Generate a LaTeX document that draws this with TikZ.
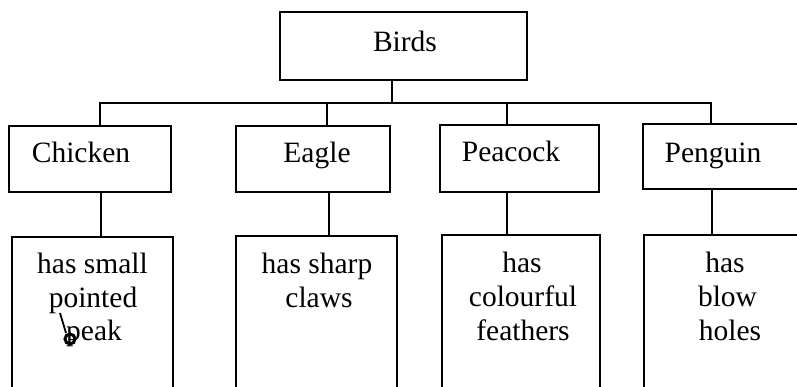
\documentclass[tikz,border=0pt]{standalone}
\usepackage{fontspec}
\setmainfont{Liberation Serif}
\begin{document}
\begin{tikzpicture}[x=1pt,y=-1pt,
  box/.style={draw, line width=2.4pt, inner sep=0pt, rectangle},
  openbox/.style={draw=none, inner sep=0pt, rectangle},
  txt/.style={inner sep=0pt, anchor=base, font=\fontsize{29.5}{34}\selectfont},
  conn/.style={line width=2.4pt}]
\useasboundingbox (0,0) rectangle (797,387);
\clip (0,0) rectangle (797,387);
\fill[white] (0,0) rectangle (797,387);
% top box
\node[box, minimum width=247pt, minimum height=68pt] (birds) at (403.5,46) {};
\node[txt] (tbirds) at (405,52) {Birds};
% second row
\node[box, minimum width=162pt, minimum height=66pt] (chicken) at (90,159) {};
\node[box, minimum width=154pt, minimum height=66pt] (eagle) at (313,159) {};
\node[box, minimum width=159pt, minimum height=67pt] (peacock) at (519.5,158.5) {};
\node[box, minimum width=170pt, minimum height=65pt] (penguin) at (728,156.5) {};
\node[txt] (tchicken) at (81,163) {Chicken};
\node[txt] (teagle) at (317,163) {Eagle};
\node[txt] (tpeacock) at (511,162) {Peacock};
\node[txt] (tpenguin) at (713,163) {Penguin};
% third row (open at bottom)
\node[openbox, minimum width=161pt, minimum height=170pt] (cb) at (92.5,322) {};
\node[openbox, minimum width=161pt, minimum height=170pt] (eb) at (316.5,321) {};
\node[openbox, minimum width=158pt, minimum height=170pt] (pb) at (521,320) {};
\node[openbox, minimum width=161pt, minimum height=170pt] (gb) at (724.5,320) {};
\foreach \b in {cb,eb,pb,gb}
  \draw[conn] (\b.south west) -- (\b.north west) -- (\b.north east) -- (\b.south east);
% texts of third row
\node[txt] (c1) at (92.5,273) {has small};
\node[txt] (c2) at (93,307) {pointed};
\node[txt] (c3) at (94,340) {peak};
\node[txt] (e1) at (317,273) {has sharp};
\node[txt] (e2) at (319,307) {claws};
\node[txt] (p1) at (522,272) {has};
\node[txt] (p2) at (523,306) {colourful};
\node[txt] (p3) at (523,340) {feathers};
\node[txt] (g1) at (725,272) {has};
\node[txt] (g2) at (727.5,306) {blow};
\node[txt] (g3) at (730,340) {holes};
% handwritten correction
\coordinate (hw1) at (60,313);
\coordinate (hw2) at (66,333);
\draw[line width=1.8pt] (hw1) -- (hw2);
\node[draw, line width=3pt, circle, inner sep=0pt, minimum size=10pt] (blob) at (70,339) {};
% connectors
\coordinate (bar) at (392,103);
\coordinate (jA) at (100,103);
\coordinate (jB) at (327,103);
\coordinate (jC) at (507,103);
\coordinate (jD) at (711,103);
\draw[conn] (bar |- birds.south) -- (bar);
\draw[conn] (chicken.north -| jA) -- (jA) -- (jD) -- (penguin.north -| jD);
\draw[conn] (jB) -- (eagle.north -| jB);
\draw[conn] (jC) -- (peacock.north -| jC);
\coordinate (kA) at (101,0);
\coordinate (kB) at (329,0);
\coordinate (kC) at (507,0);
\coordinate (kD) at (712,0);
\draw[conn] (chicken.south -| kA) -- (cb.north -| kA);
\draw[conn] (eagle.south -| kB) -- (eb.north -| kB);
\draw[conn] (peacock.south -| kC) -- (pb.north -| kC);
\draw[conn] (penguin.south -| kD) -- (gb.north -| kD);
\end{tikzpicture}
\end{document}
